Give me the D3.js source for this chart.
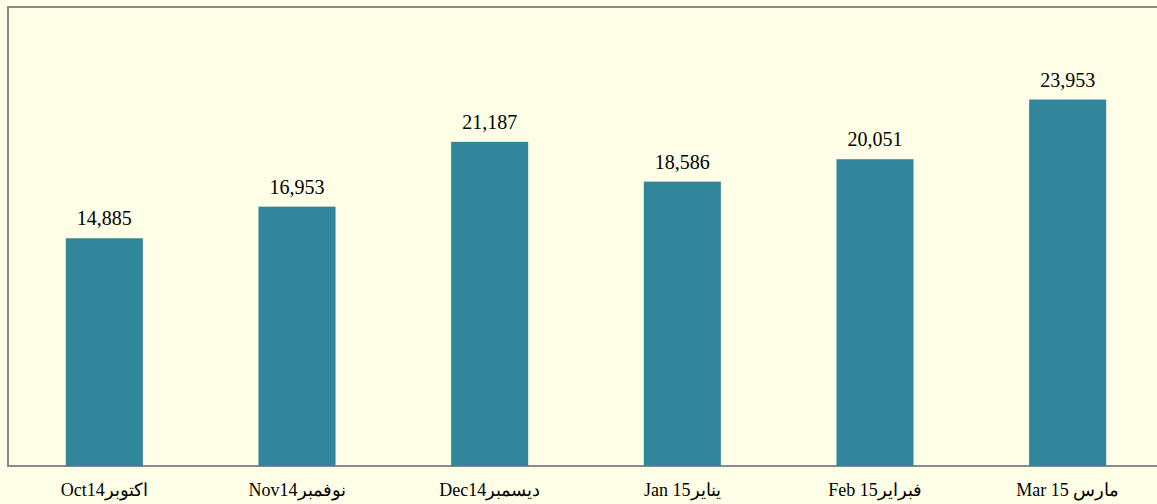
<!DOCTYPE html>
<html>
<head>
<meta charset="utf-8">
<script src="https://d3js.org/d3.v7.min.js"></script>
<style>
  html, body { margin: 0; padding: 0; background: #ffffe8; overflow: hidden; }
</style>
</head>
<body>
<div id="chart"></div>
<script>
  // data
  var months = ["Oct14اكتوبر", "Nov14نوفمبر", "Dec14ديسمبر", "Jan 15يناير", "Feb 15فبراير", "Mar 15 مارس"];
  var visitors = [14885, 16953, 21187, 18586, 20051, 23953];

  var width = 1157, height = 504;
  var plot = { left: 8, right: 1172, top: 7, bottom: 466 };

  var svg = d3.select("#chart")
    .append("svg")
    .attr("width", width)
    .attr("height", height);

  svg.append("rect")
    .attr("width", width)
    .attr("height", height)
    .attr("fill", "#ffffe8");

  var x = d3.scaleBand()
    .domain(months)
    .range([plot.left, 1164])
    .paddingInner(0.6)
    .paddingOuter(0.3);

  var y = d3.scaleLinear()
    .domain([0, 30000])
    .range([plot.bottom, plot.top]);

  // plot frame (runs past the right edge of the page)
  svg.append("rect")
    .attr("x", plot.left)
    .attr("y", plot.top)
    .attr("width", plot.right - plot.left)
    .attr("height", plot.bottom - plot.top)
    .attr("fill", "none")
    .attr("stroke", "#8a8a8a")
    .attr("stroke-width", 2);

  svg.selectAll(".bar")
    .data(visitors)
    .enter()
    .append("rect")
    .attr("class", "bar")
    .attr("x", function (d, i) { return x(months[i]); })
    .attr("y", function (d) { return y(d); })
    .attr("width", x.bandwidth())
    .attr("height", function (d) { return y(0) - y(d); })
    .attr("fill", "#31869b");

  svg.selectAll(".val")
    .data(visitors)
    .enter()
    .append("text")
    .attr("class", "val")
    .attr("x", function (d, i) { return x(months[i]) + x.bandwidth() / 2; })
    .attr("y", function (d) { return y(d) - 13; })
    .attr("text-anchor", "middle")
    .style("font-family", "'Liberation Serif', 'Times New Roman', serif")
    .style("font-size", "20px")
    .attr("fill", "#000")
    .text(d3.format(","));

  // month labels under the frame
  var xAxis = svg.append("g")
    .attr("transform", "translate(0," + plot.bottom + ")")
    .call(d3.axisBottom(x).tickSize(0).tickPadding(14));
  xAxis.select(".domain").remove();
  xAxis.selectAll("text")
    .attr("dy", "0.9em")
    .style("font-family", "'Liberation Serif', 'Times New Roman', serif")
    .style("font-size", "18px")
    .attr("fill", "#000");
</script>
</body>
</html>
